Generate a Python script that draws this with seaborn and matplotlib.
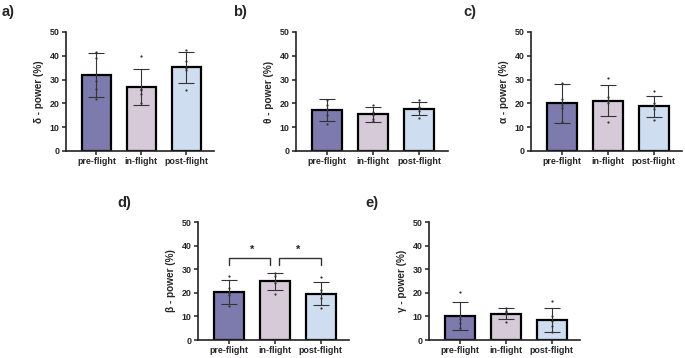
import matplotlib
matplotlib.use("Agg")
import matplotlib.pyplot as plt
import seaborn as sns
import numpy as np
import pandas as pd

sns.set_style("ticks")
plt.rcParams['font.family'] = ['Liberation Sans', 'DejaVu Sans']
plt.rcParams['font.weight'] = 'bold'

categories = ["pre-flight", "in-flight", "post-flight"]
colors = ["#7672b6", "#d8c7dc", "#c8ddf6"]

panel_letters = ["a)", "b)", "c)", "d)", "e)"]
ylabels = ["δ - power (%)", "θ - power (%)", "α - power (%)", "β - power (%)", "γ - power (%)"]

delta_mean = [32.0, 27.0, 35.2]
delta_sd = [9.3, 7.5, 6.5]
theta_mean = [17.1, 15.4, 17.8]
theta_sd = [4.7, 3.2, 2.6]
alpha_mean = [20.0, 21.2, 18.8]
alpha_sd = [8.2, 6.6, 4.5]
beta_mean = [20.5, 24.9, 19.6]
beta_sd = [5.1, 3.7, 4.8]
gamma_mean = [10.2, 11.2, 8.3]
gamma_sd = [5.8, 2.5, 5.1]

delta_pts = [[41.5, 29.5, 22.0, 26.0, 39.0], [40.0, 26.0, 20.0, 24.0, 25.5], [42.5, 35.0, 25.5, 38.0, 34.0]]
theta_pts = [[21.5, 17.5, 11.5, 15.0, 19.5], [19.5, 15.0, 12.5, 13.5, 16.5], [21.5, 18.0, 14.0, 17.0, 18.5]]
alpha_pts = [[28.5, 19.5, 12.0, 22.0, 18.0], [30.5, 22.5, 12.0, 20.0, 21.0], [25.0, 19.0, 13.0, 17.5, 20.0]]
beta_pts = [[27.0, 20.0, 14.5, 22.0, 19.0], [28.5, 24.0, 19.5, 27.0, 25.0], [26.5, 20.0, 13.5, 18.0, 21.0]]
gamma_pts = [[20.3, 9.0, 5.0, 7.0, 10.0], [13.5, 11.0, 7.5, 12.0, 12.5], [16.5, 8.0, 3.5, 6.0, 10.0]]

means = [delta_mean, theta_mean, alpha_mean, beta_mean, gamma_mean]
sds = [delta_sd, theta_sd, alpha_sd, beta_sd, gamma_sd]
pts = [delta_pts, theta_pts, alpha_pts, beta_pts, gamma_pts]

# significance brackets for panel d: (group1, group2, label)
beta_sig = [(0, 1, "*"), (1, 2, "*")]
sig_y = 34.7
sig_drop = 2.9

W, H = 685, 358
fig = plt.figure(figsize=(W / 100, H / 100), dpi=100)

# axes rectangles in pixels: left, right, top(y of 50), bottom(y of 0)
rects = [(66, 214, 32, 151), (296, 448, 32, 151), (531, 682, 32, 151),
         (198, 349, 222, 340), (429, 580, 222, 340)]
label_pos = [(2, 12), (233, 12), (463, 12), (117, 203), (365, 203)]

for i in range(5):
    l, r, t, b = rects[i]
    ax = fig.add_axes([l / W, 1 - b / H, (r - l) / W, (b - t) / H])
    df = pd.DataFrame({"cond": categories, "val": means[i]})
    sns.barplot(data=df, x="cond", y="val", hue="cond", palette=colors, order=categories,
                width=0.65, edgecolor="black", linewidth=1.6, legend=False, ax=ax, errorbar=None)
    ax.errorbar(np.arange(3), means[i], yerr=sds[i], fmt="none", ecolor="#333333",
                elinewidth=0.8, capsize=5.5, capthick=0.8, zorder=5)
    pdf = pd.DataFrame({"cond": np.repeat(categories, [len(p) for p in pts[i]]),
                        "val": np.concatenate(pts[i])})
    sns.stripplot(data=pdf, x="cond", y="val", order=categories, color="#333333", size=1.6,
                  jitter=False, ax=ax, zorder=6)
    ax.set_ylim(0, 50)
    ax.set_xlim(-0.68, 2.62)
    ax.set_yticks([0, 10, 20, 30, 40, 50])
    ax.set_xlabel("")
    ax.set_ylabel(ylabels[i], fontsize=7.2, fontweight="bold", labelpad=4)
    for s in ["top", "right"]:
        ax.spines[s].set_visible(False)
    for s in ["left", "bottom"]:
        ax.spines[s].set_linewidth(1.2)
        ax.spines[s].set_color("#222222")
    ax.tick_params(axis="both", labelsize=6.4, width=1.1, length=3, pad=1.5, color="#222222")
    for lab in ax.get_xticklabels() + ax.get_yticklabels():
        lab.set_fontweight("bold")
    fig.text(label_pos[i][0] / W, 1 - label_pos[i][1] / H, panel_letters[i],
             fontsize=10.5, fontweight="bold", va="center", ha="left")
    if i == 3:
        for g1, g2, txt in beta_sig:
            x1 = g1 + (0.1 if g1 == 1 else 0)
            x2 = g2 - (0.1 if g2 == 1 else 0)
            ax.plot([x1, x1, x2, x2], [sig_y - sig_drop, sig_y, sig_y, sig_y - sig_drop],
                    color="#333333", lw=1.0, clip_on=False)
            ax.text((g1 + g2) / 2, sig_y + 1.2, txt, ha="center", va="bottom",
                    fontsize=8, fontweight="bold")

fig.savefig("out.png", dpi=100)
